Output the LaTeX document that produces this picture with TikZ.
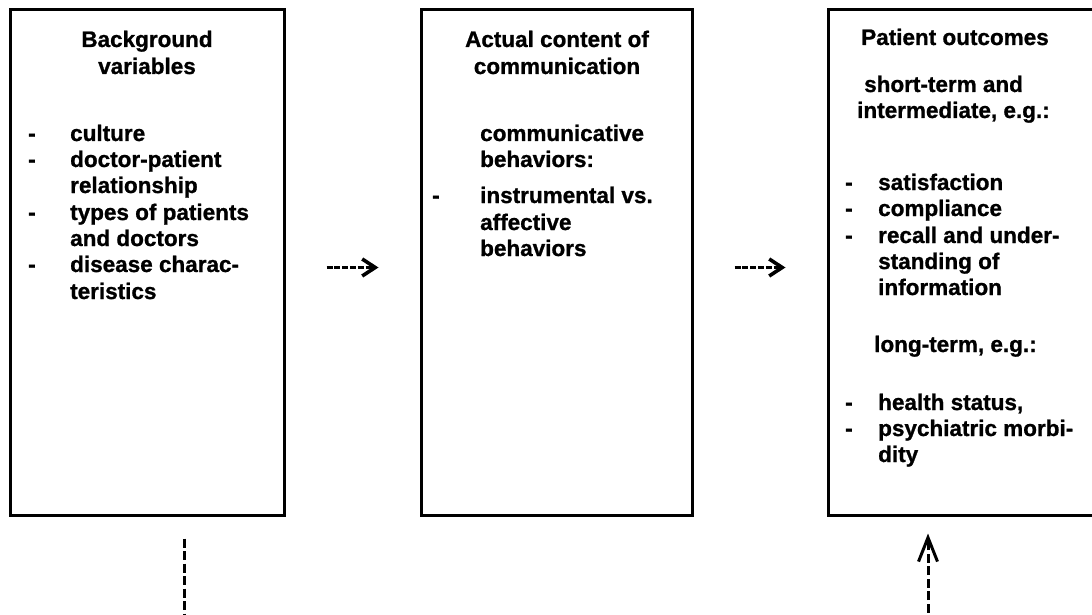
\documentclass[tikz,border=0pt]{standalone}
\usepackage{fontspec}
\setmainfont{Liberation Sans}[BoldFeatures={FakeBold=1}]
\usetikzlibrary{arrows.meta,positioning}

\tikzset{
  box/.style={draw, line width=3pt, minimum width=274pt, minimum height=505pt, inner sep=0pt},
  txt/.style={anchor=base west, inner sep=0pt, font=\fontsize{22.5}{26.3}\selectfont\bfseries},
  head/.style={txt, anchor=base},
  dashline/.style={line width=3pt, dash pattern=on 9pt off 3.5pt},
  hyphenline/.style={line width=3.2pt, dash pattern=on 6pt off 1.8pt},
}

\begin{document}
\begin{tikzpicture}[x=1pt, y=-1pt]
    \useasboundingbox (0,0) rectangle (1092,615);
    \clip (0,0) rectangle (1092,615);

    % three boxes
    \node[box] (bg) at (147,262.5) {};
    \node[box, minimum width=271pt] (comm) at (556.5,262.5) {};
    \node[box] (outc) at (965,262.5) {};

    % box 1: background variables
    \node[head] (bgh1) at (147,47) {Background};
    \node[head] (bgh2) at (147,74) {variables};
    \foreach \y/\t [count=\i] in {141/culture, 167/{doctor-patient}, 193/relationship,
        220/{types of patients}, 246/{and doctors}, 272/{disease charac-}, 299/teristics}
        \node[txt] (bgl\i) at (70,\y) {\t};
    \foreach \y [count=\i] in {141,167,220,272}
        \node[txt] (bgd\i) at (28,\y) {-};

    % box 2: actual content of communication
    \node[head] (commh1) at (557,47) {Actual content of};
    \node[head] (commh2) at (557,74) {communication};
    \foreach \y/\t [count=\i] in {141/communicative, 167/behaviors:, 203/{instrumental vs.},
        230/affective, 256/behaviors}
        \node[txt] (comml\i) at (480,\y) {\t};
    \node[txt] (commd1) at (432,203) {-};

    % box 3: patient outcomes
    \node[head] (outch1) at (955,45) {Patient outcomes};
    \node[txt] (outch2) at (864,92) {short-term and};
    \node[txt] (outch3) at (857,118) {intermediate, e.g.:};
    \foreach \y/\t [count=\i] in {190/satisfaction, 216/compliance, 243/{recall and under-},
        269/{standing of}, 295/information, 410/{health status,}, 436/{psychiatric morbi-}, 462/dity}
        \node[txt] (outcl\i) at (878,\y) {\t};
    \node[txt] (outch4) at (874,352) {long-term, e.g.:};
    \foreach \y [count=\i] in {190,216,243,410,436}
        \node[txt] (outcd\i) at (845,\y) {-};

    % dashed arrows between the boxes
    \draw[hyphenline, -{Straight Barb[length=13pt, width=17pt, line width=3.6pt]},
        shorten <=41pt, shorten >=41pt] ([yshift=-5pt]bg.east) -- ([yshift=-5pt]comm.west);
    \draw[hyphenline, -{Straight Barb[length=13pt, width=17pt, line width=3.6pt]},
        shorten <=41pt, shorten >=41pt] ([yshift=-5pt]comm.east) -- ([yshift=-5pt]outc.west);

    % dashed lines below
    \coordinate (bgend) at (184,625);
    \coordinate (outcstart) at (928,625);
    \draw[dashline, shorten <=22pt] ([xshift=37pt]bg.south) -- (bgend);
    \draw[dashline, -{Straight Barb[length=24pt, width=19pt, line width=3pt]},
        shorten >=17pt] (outcstart) -- ([xshift=-37pt]outc.south);

\end{tikzpicture}
\end{document}
